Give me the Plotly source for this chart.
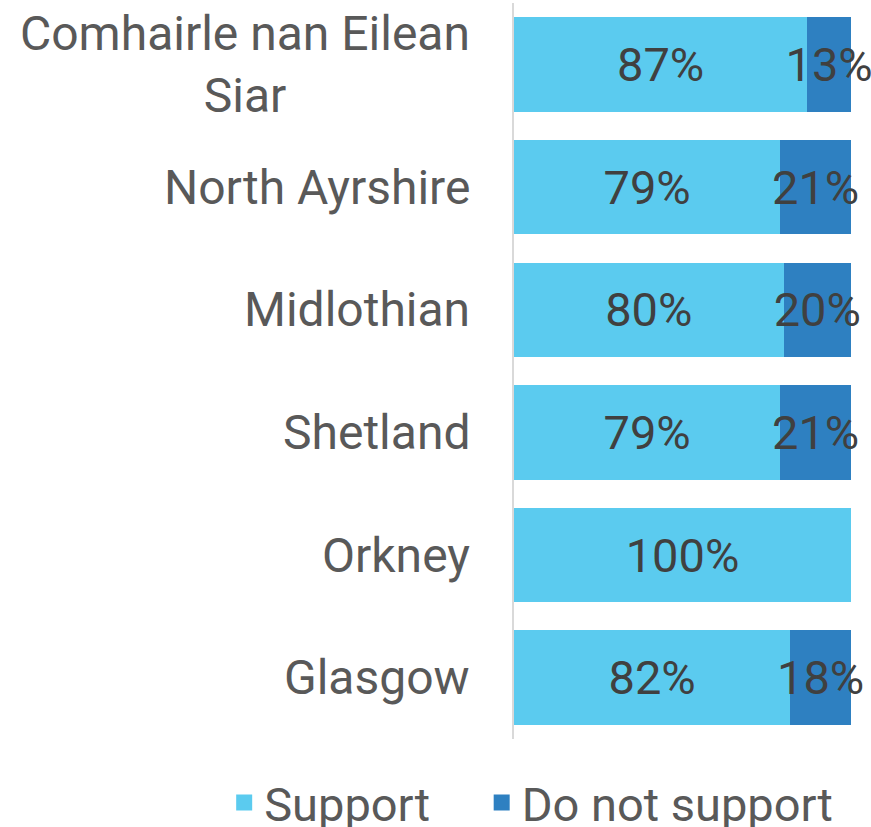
import plotly.graph_objects as go

areas = ["Comhairle nan Eilean<br>Siar", "North Ayrshire", "Midlothian", "Shetland", "Orkney", "Glasgow"]
support = [87, 79, 80, 79, 100, 82]
not_support = [13, 21, 20, 21, 0, 18]
series_names = ["Support", "Do not support"]

COL_SUPPORT = "#5BCBEF"
COL_NOT = "#2E80C1"
FONT = "Roboto"

# plot bottom-up so the first area sits on top
cats = list(reversed(areas))
sup = list(reversed(support))
nsup = list(reversed(not_support))


def labels(vals):
    return [f"{v}%" if v > 0 else "" for v in vals]


fig = go.Figure()
for i, (name, vals, col) in enumerate(zip(series_names, [sup, nsup], [COL_SUPPORT, COL_NOT])):
    fig.add_trace(go.Bar(
        y=cats, x=vals, orientation="h", name=name, showlegend=False,
        marker=dict(color=col, line=dict(width=0)),
        text=labels(vals), textposition="inside", insidetextanchor="middle",
        textangle=0, constraintext="none", cliponaxis=False,
        insidetextfont=dict(family=FONT, size=47, color="#404040"),
    ))
    # legend-only entry with a bigger square swatch
    pad = "\u00a0" * 4 if i == 0 else ""
    fig.add_trace(go.Scatter(
        x=[None], y=[None], mode="markers", name=name + pad,
        marker=dict(symbol="square", size=16, color=col),
    ))

# category labels as annotations so the wrapped label is centred
for c in cats:
    fig.add_annotation(
        x=0, xref="paper", y=c, yref="y", text=c, showarrow=False,
        xanchor="right", yanchor="middle", align="center", xshift=-42,
        font=dict(family=FONT, size=48, color="#595959"),
    )

fig.update_layout(
    barmode="stack",
    bargap=0.23,
    width=871, height=827,
    margin=dict(l=514, r=20, t=3, b=88, autoexpand=False),
    plot_bgcolor="white", paper_bgcolor="white",
    font=dict(family=FONT, color="#595959"),
    showlegend=True,
    legend=dict(
        orientation="h", xref="paper", yref="paper",
        x=-0.86, xanchor="left", y=-0.087, yanchor="middle",
        font=dict(family=FONT, size=47, color="#595959"),
        itemwidth=30, traceorder="normal",
    ),
    xaxis=dict(range=[0, 100], visible=False, fixedrange=True),
    yaxis=dict(
        categoryorder="array", categoryarray=cats,
        showticklabels=False, showgrid=False, zeroline=False,
        showline=True, linecolor="#D9D9D9", linewidth=2, ticks="",
    ),
)

fig.write_html("out.html", config={"displayModeBar": False},
               post_script="document.body.style.margin='0';")
